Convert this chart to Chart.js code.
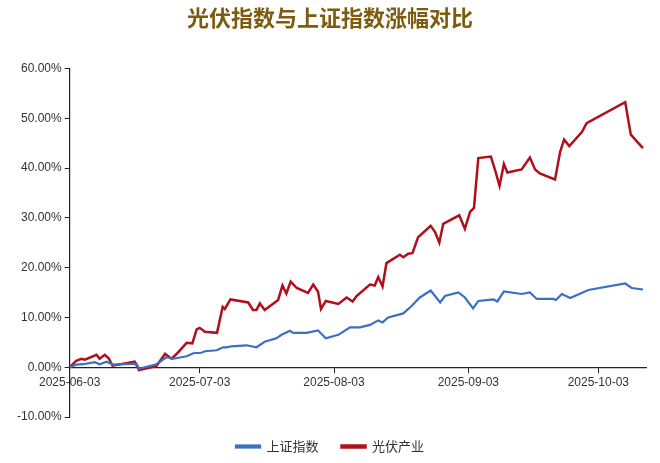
<!DOCTYPE html>
<html>
<head>
<meta charset="utf-8">
<script src="https://cdn.jsdelivr.net/npm/chart.js@4"></script>
<style>
  body { margin: 0; background: #fff; }
  #wrap { width: 660px; height: 463px; }
</style>
</head>
<body>
<div id="wrap"><canvas id="lineChart"></canvas></div>
<script>
// 日期偏移(天,从2025-06-03起)与涨幅(%)
const tickDays = [0, 30, 61, 92, 122];
const tickLabels = ['2025-06-03', '2025-07-03', '2025-08-03', '2025-09-03', '2025-10-03'];

const pvDays = [0, 1.5, 2.7, 3.5, 6.2, 6.9, 8.1, 9, 9.9, 15, 16, 20, 22, 23.5, 24.6, 27, 28.3, 29.3, 30, 31.2, 34, 35.3, 35.8, 37.1, 41.2, 42.3, 43.1, 43.9, 45, 48.1, 49.1, 50, 51, 52.4, 55, 56.2, 57.3, 58, 59.1, 62, 63.9, 65.3, 66.2, 69.3, 70.4, 71.2, 72.2, 73.1, 76.2, 77, 78.1, 79.1, 80.4, 83.3, 84.3, 85.3, 86.2, 89.9, 91.2, 92.4, 93.3, 94.3, 97.2, 98.2, 99.2, 100.2, 101, 104.3, 106.2, 107.4, 108.5, 112, 113.2, 114.1, 115.3, 118.2, 119.3, 128.2, 129.5, 132.3];
const pvValues = [0, 1.3, 1.7, 1.5, 2.5, 1.7, 2.5, 1.8, 0.3, 1.1, -0.6, 0.2, 2.7, 1.7, 2.6, 4.9, 4.8, 7.6, 7.9, 7.1, 6.9, 12.1, 11.7, 13.6, 13.0, 11.5, 11.5, 12.8, 11.5, 13.5, 16.4, 14.8, 17.2, 15.9, 14.9, 16.6, 15.2, 11.7, 13.3, 12.7, 14.0, 13.2, 14.3, 16.6, 16.4, 18.1, 16.2, 20.9, 22.6, 22.1, 22.8, 22.9, 26.1, 28.4, 27.2, 25.0, 28.8, 30.5, 27.8, 31.2, 32.0, 42.0, 42.3, 39.5, 36.4, 40.8, 39.1, 39.7, 42.1, 39.7, 38.9, 37.7, 43.3, 45.7, 44.4, 47.2, 49.0, 53.2, 46.7, 44.0];

const shDays = [0, 1.5, 3.1, 5.8, 6.9, 8.5, 10, 15.4, 16, 20, 22.3, 23.9, 27, 28.5, 30.4, 31.2, 33.9, 35.4, 36.2, 37.3, 40.8, 43.1, 45, 47.7, 48.9, 50.8, 51.6, 54.7, 57.3, 59.1, 62, 64.7, 67, 69.3, 71.2, 72.2, 73.5, 77, 78.9, 80.8, 83.3, 85.5, 86.6, 89.7, 91.2, 93.1, 94.3, 97.8, 98.7, 100.2, 104.3, 106.2, 107.8, 111.6, 112.2, 113.6, 115.5, 119.7, 128.2, 129.7, 132.3];
const shValues = [0, 0.5, 0.6, 1.0, 0.6, 1.1, 0.5, 0.7, -0.3, 0.6, 2.0, 1.7, 2.2, 2.8, 2.9, 3.2, 3.4, 4.0, 4.0, 4.2, 4.4, 4.0, 5.1, 5.8, 6.5, 7.3, 6.9, 6.9, 7.4, 5.8, 6.5, 8.0, 8.0, 8.5, 9.4, 9.0, 10.0, 10.8, 12.3, 14.0, 15.4, 13.0, 14.3, 15.0, 14.0, 11.8, 13.3, 13.6, 13.2, 15.2, 14.7, 15.0, 13.7, 13.7, 13.5, 14.7, 13.9, 15.5, 16.8, 15.9, 15.6];

const toPoints = (days, vals) => days.map((d, i) => ({ x: d, y: vals[i] }));

const ctx = document.getElementById('lineChart').getContext('2d');
new Chart(ctx, {
    type: 'line',
    data: {
        datasets: [{
            label: '上证指数',
            data: toPoints(shDays, shValues),
            borderColor: '#3a6fc4',
            backgroundColor: '#3a6fc4',
            borderWidth: 2.2,
            pointRadius: 0,
            tension: 0
        }, {
            label: '光伏产业',
            data: toPoints(pvDays, pvValues),
            borderColor: '#b0101c',
            backgroundColor: '#b0101c',
            borderWidth: 2.5,
            pointRadius: 0,
            tension: 0
        }]
    },
    options: {
        responsive: true,
        maintainAspectRatio: false,
        animation: false,
        layout: { padding: { left: 14, right: 14, top: 0, bottom: 0 } },
        plugins: {
            title: {
                display: true,
                text: '光伏指数与上证指数涨幅对比',
                color: '#7d5c10',
                font: { family: 'Noto Sans CJK SC', size: 22, weight: 'bold' },
                padding: { top: 4, bottom: 38 }
            },
            legend: {
                position: 'bottom',
                labels: {
                    boxWidth: 24, boxHeight: 2, padding: 23,
                    color: '#333',
                    font: { family: 'Noto Sans CJK SC', size: 13 }
                }
            },
            tooltip: { enabled: false }
        },
        scales: {
            x: {
                type: 'linear',
                position: { y: 0 },
                min: 0, max: 133,
                afterBuildTicks: axis => { axis.ticks = tickDays.map(v => ({ value: v })); },
                ticks: {
                    callback: v => tickLabels[tickDays.indexOf(v)],
                    color: '#333', maxRotation: 0, autoSkip: false,
                    font: { family: 'Liberation Sans', size: 12 }
                },
                grid: { drawOnChartArea: false, tickLength: 5, color: '#222' },
                border: { color: '#222', width: 1.2 }
            },
            y: {
                min: -10, max: 60,
                ticks: {
                    stepSize: 10,
                    callback: v => v.toFixed(2) + '%',
                    color: '#333',
                    font: { family: 'Liberation Sans', size: 12 }
                },
                grid: { drawOnChartArea: false, tickLength: 5, color: '#222' },
                border: { color: '#222', width: 1.2 }
            }
        }
    }
});
</script>
</body>
</html>
